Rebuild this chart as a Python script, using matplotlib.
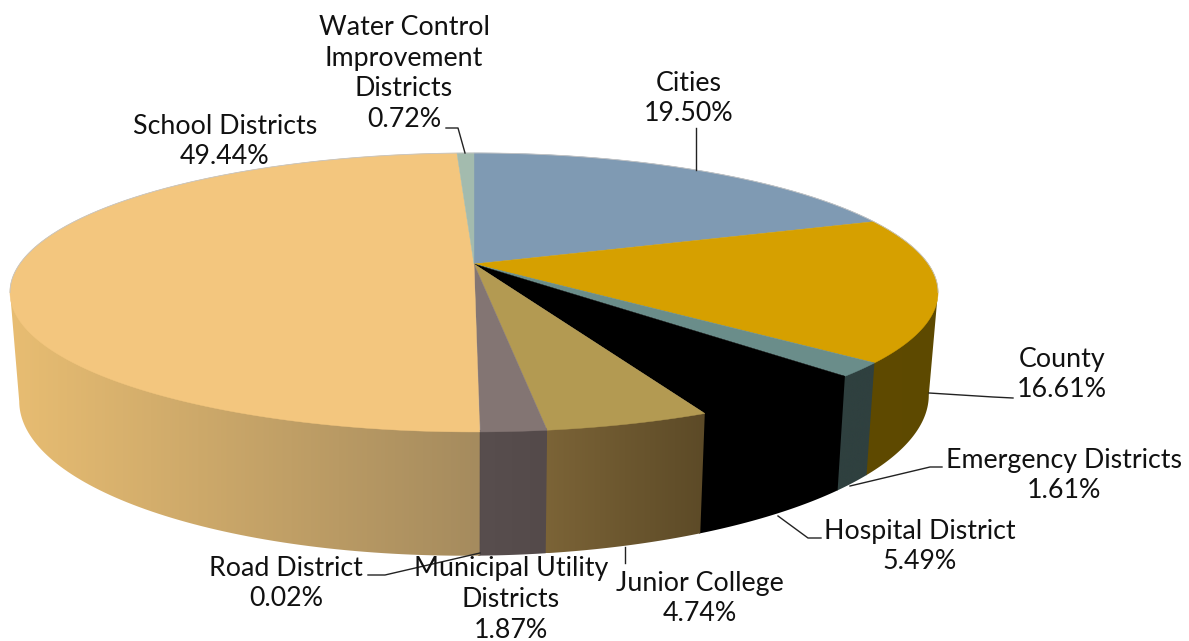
import numpy as np
import matplotlib
matplotlib.use("Agg")
import matplotlib.pyplot as plt
from matplotlib.colors import LinearSegmentedColormap
from matplotlib.patches import Polygon

plt.rcParams['font.family'] = ['Lato', 'DejaVu Sans']

names = ["Cities", "County", "Emergency Districts", "Hospital District", "Junior College",
         "Municipal Utility\nDistricts", "Road District", "School Districts",
         "Water Control\nImprovement\nDistricts"]
shares = [19.50, 16.61, 1.61, 5.49, 4.74, 1.87, 0.02, 49.44, 0.72]

top_colors = ["#7f9ab3", "#d6a000", "#6a8d8a", "#000000", "#b39a52", "#837573", "#837573", "#f3c67e", "#a3bbae"]
wall_left = ["#5f4a00", "#5f4a00", "#2f403f", "#000000", "#7c6437", "#584e4e", "#584e4e", "#e8bd72", "#a3bbae"]
wall_right = ["#5f4a00", "#5d4900", "#2f403f", "#000000", "#5c4a27", "#544a4a", "#544a4a", "#a58b5e", "#a3bbae"]

label_x = [689, 1062, 1064, 920, 700, 511, 286, 225, 404]
label_y = [98.5, 374.5, 475.5, 546.5, 598.5, 599.5, 583.5, 141.5, 73.5]

leaders = [
    ([696, 696], [128, 170]),
    ([929, 993, 1013], [393, 397, 398]),
    ([850, 930, 942], [486, 467, 467]),
    ([778, 808, 821], [516, 538, 538]),
    ([625, 625], [547, 563]),
    ([480, 385, 368], [553, 575, 575]),
    ([465, 458, 446], [153, 128, 128]),
]

# perspective of the pie disc, in picture pixels
cx, cy = 474, 264
rx, ry = 454.3, 133.7
tilt = -0.204
first_wall = 101.8
last_wall = 258.2


def top_point(deg):
    t = np.radians(deg)
    d = 1 + tilt * -np.cos(t)
    return cx + rx * np.sin(t) / d, cy + ry * -np.cos(t) / d


def bottom_point(deg):
    # fitted on the lower rim, it is a bit lower on the left side
    t = np.radians(deg)
    d = 1 + tilt * -np.cos(t)
    return cx + 0.98 * rx * np.sin(t) / d, 366 + 151 * -np.cos(t) / d - 3 * np.sin(t) / d


fig = plt.figure(figsize=(11.89, 6.41), dpi=100)
ax = fig.add_axes([0, 0, 1, 1])

edges = np.concatenate([[0], np.cumsum(shares)]) / sum(shares) * 360

# side walls first, the top goes over them
for i in range(len(shares)):
    a = max(edges[i], first_wall)
    b = min(edges[i + 1] + 0.2, last_wall)
    if a >= b:
        continue
    degs = np.linspace(a, b, 80)
    tx, ty = top_point(degs)
    bx, by = bottom_point(degs)
    # wall starts slightly under the top face so no seam shows
    xs = np.concatenate([tx, bx[::-1]])
    ys = np.concatenate([ty - 2, by[::-1]])
    poly = Polygon(np.column_stack([xs, ys]), closed=True, fc='none', ec='none')
    ax.add_patch(poly)
    cmap = LinearSegmentedColormap.from_list("wall", [wall_left[i], wall_right[i]])
    im = ax.imshow(np.linspace(0, 1, 256).reshape(1, -1), cmap=cmap, aspect='auto', vmin=0, vmax=1,
                   extent=[xs.min(), xs.max(), ys.max(), ys.min()], zorder=2)
    im.set_clip_path(poly)

# top faces
for i in range(len(shares)):
    degs = np.linspace(edges[i], edges[i + 1], 200)
    tx, ty = top_point(degs)
    xs = np.concatenate([[cx], tx])
    ys = np.concatenate([[cy], ty])
    ax.add_patch(Polygon(np.column_stack([xs, ys]), closed=True, fc=top_colors[i], ec=top_colors[i],
                         lw=0.3, zorder=3))

# thin grey rim at the back
rim = np.linspace(last_wall, first_wall + 360, 300)
rim_x, rim_y = top_point(rim)
ax.plot(rim_x, rim_y, color='#c4c4c4', lw=0.6, zorder=3.5)

for lx, ly in leaders:
    ax.plot(lx, ly, color='#222222', lw=1.0, zorder=4, solid_joinstyle='round')

for name, share, x, y in zip(names, shares, label_x, label_y):
    ax.text(x, y, f"{name}\n{share:.2f}%", ha='center', va='center', fontsize=19.3,
            color='#111111', linespacing=1.28, zorder=5)

ax.set_xlim(0, 1189)
ax.set_ylim(641, 0)
ax.axis('off')

fig.savefig("out.png", dpi=100, facecolor='white')
